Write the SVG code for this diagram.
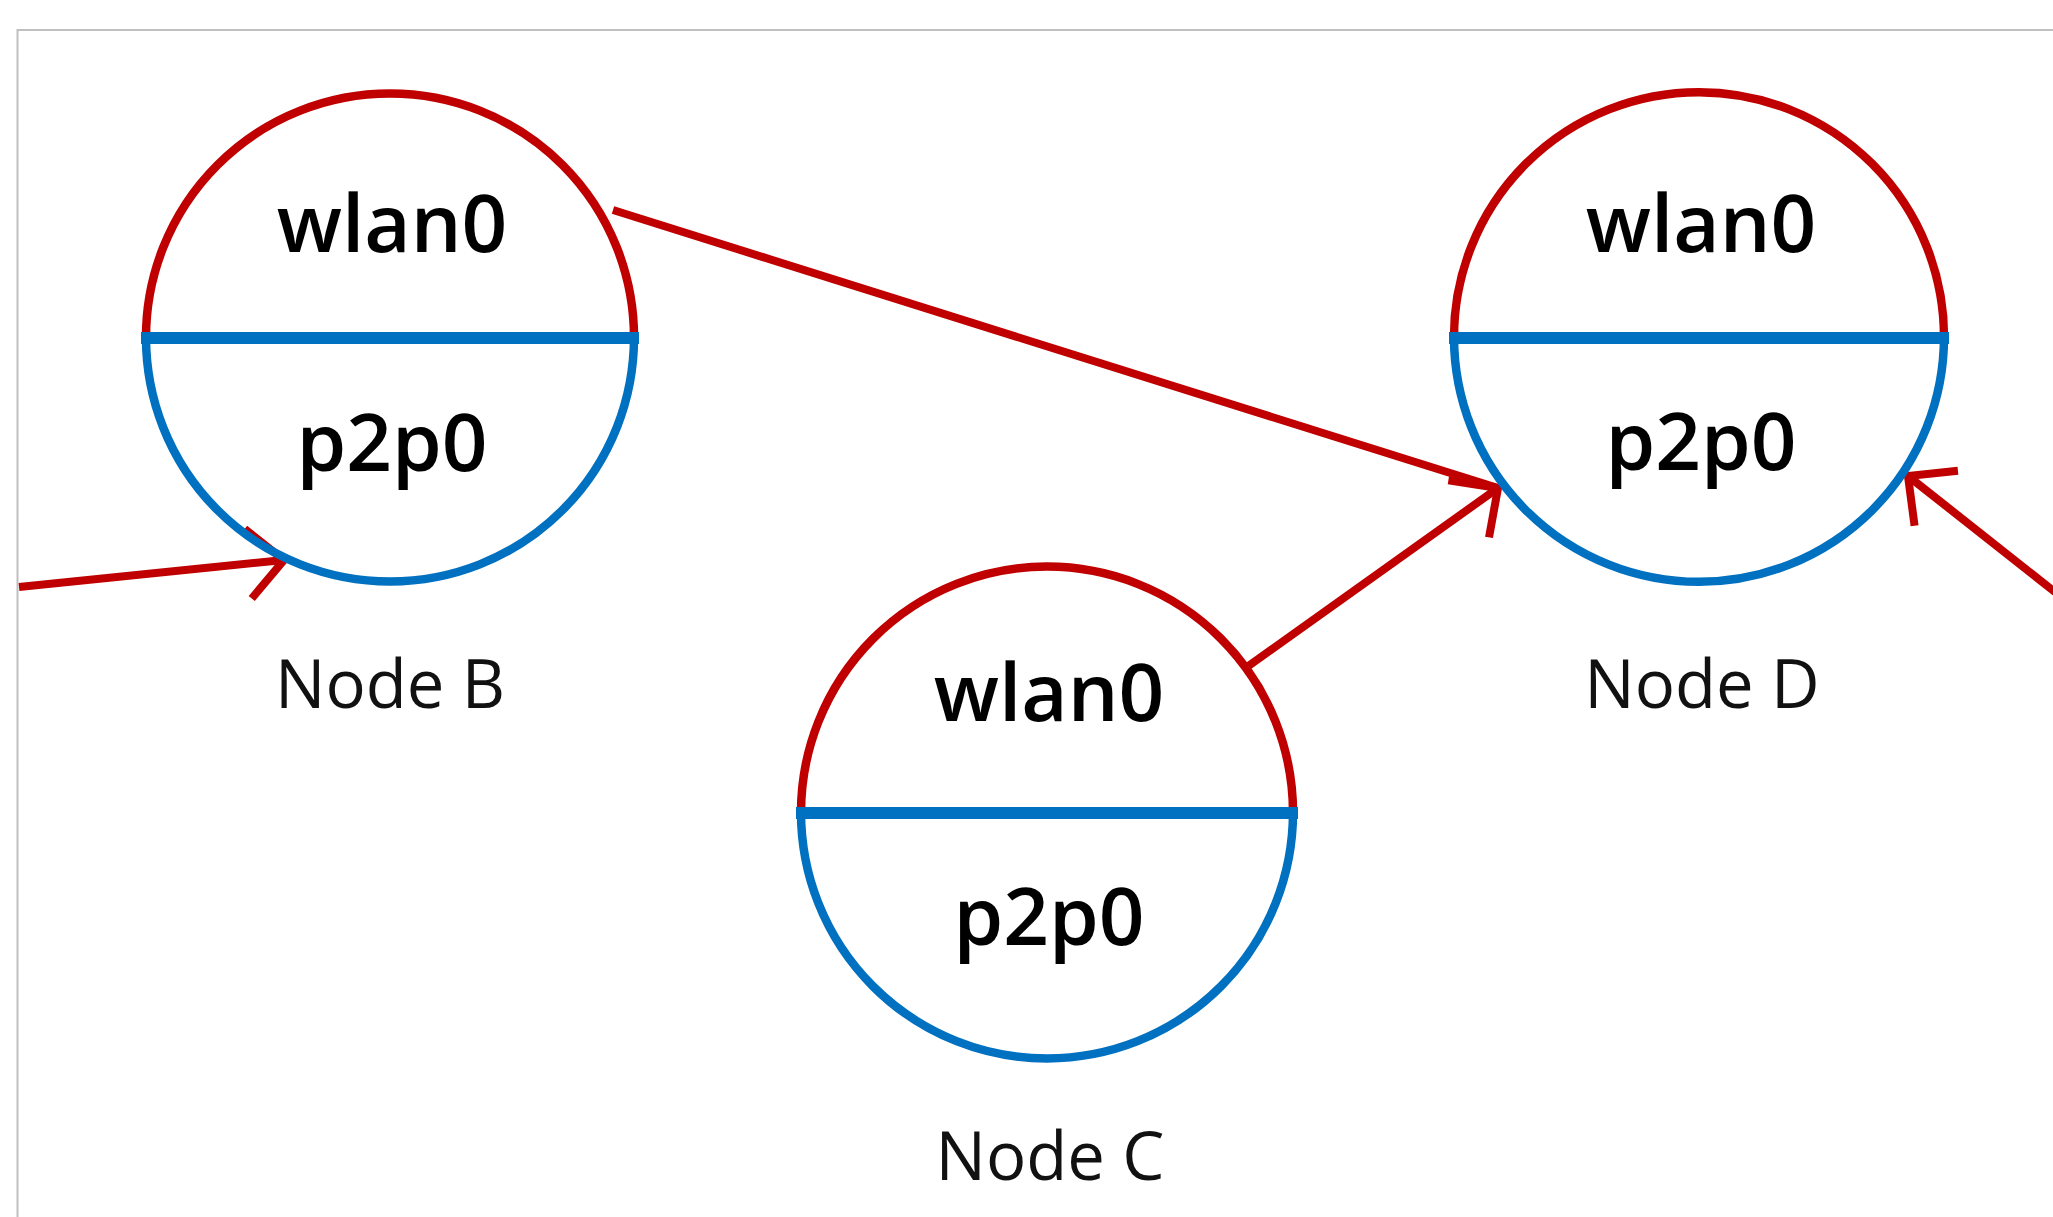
<svg xmlns="http://www.w3.org/2000/svg" width="2053" height="1217" viewBox="0 0 2053 1217">
  <style>
    .top { fill: none; stroke: #c00000; stroke-width: 8.5; }
    .bot { fill: none; stroke: #0070c0; stroke-width: 8.5; }
    .div { stroke: #0070c0; stroke-width: 12; }
    .iface { font-family: "Open Sans", "Liberation Sans", sans-serif; font-size: 80px; font-weight: 600; fill: #000; text-anchor: middle; }
    .label { font-family: "Open Sans", "Liberation Sans", sans-serif; font-size: 67px; fill: #111; text-anchor: middle; }
    .conn { fill: none; stroke: #c00000; stroke-width: 8; }
  </style>
  <defs>
    <marker id="open" viewBox="-60 -45 70 90" markerWidth="70" markerHeight="90" refX="0" refY="0" orient="auto" markerUnits="userSpaceOnUse">
      <path d="M-36,-35 L0,0 L-36,35" fill="none" stroke="#c00000" stroke-width="8"/>
    </marker>
  </defs>
  <rect x="0" y="0" width="2053" height="1217" fill="#fff"/>
  <rect x="17.5" y="30" width="2100" height="1300" fill="none" stroke="#bfbfbf" stroke-width="2"/>

  <g id="connectors">
    <path class="conn" d="M19,587 L284,560" marker-end="url(#open)"/>
    <path class="conn" d="M613,210 L1498,488"/>
    <path class="conn" d="M1247,667 L1498,488" marker-end="url(#open)"/>
    <path class="conn" d="M2060,596 L1908,476" marker-end="url(#open)"/>
  </g>

  <g id="node-b">
    <path class="top" d="M146,337.5 A244,244 0 0 1 634,337.5"/>
    <path class="bot" d="M146,337.5 A244,244 0 0 0 634,337.5"/>
    <line class="div" x1="141" y1="338" x2="639" y2="338"/>
    <text class="iface" x="392" y="252">wlan0</text>
    <text class="iface" x="392" y="471">p2p0</text>
    <text class="label" x="390" y="708">Node B</text>
  </g>

  <g id="node-c">
    <path class="top" d="M801,812.5 A246,246 0 0 1 1293,812.5"/>
    <path class="bot" d="M801,812.5 A246,246 0 0 0 1293,812.5"/>
    <line class="div" x1="796" y1="813" x2="1298" y2="813"/>
    <text class="iface" x="1049" y="721">wlan0</text>
    <text class="iface" x="1049" y="945">p2p0</text>
    <text class="label" x="1050" y="1180">Node C</text>
  </g>

  <g id="node-d">
    <path class="top" d="M1454,337 A245,245 0 0 1 1944,337"/>
    <path class="bot" d="M1454,337 A245,245 0 0 0 1944,337"/>
    <line class="div" x1="1449" y1="338" x2="1949" y2="338"/>
    <text class="iface" x="1701" y="252">wlan0</text>
    <text class="iface" x="1701" y="470">p2p0</text>
    <text class="label" x="1702" y="708">Node D</text>
  </g>
</svg>
